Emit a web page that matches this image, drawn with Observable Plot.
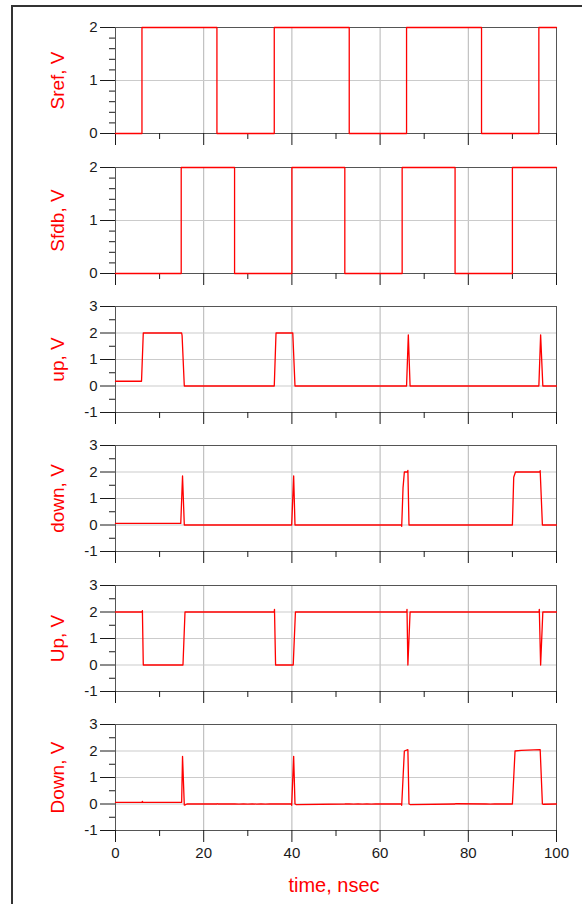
<!DOCTYPE html>
<html>
<head>
<meta charset="utf-8">
<script src="https://cdn.jsdelivr.net/npm/d3@7"></script>
<script src="https://cdn.jsdelivr.net/npm/@observablehq/plot@0.6"></script>
<style>
  html, body { margin: 0; padding: 0; background: #fff; }
  #wrap { position: relative; width: 582px; height: 904px; overflow: hidden; background: #fff; }
  #border { position: absolute; left: 11px; top: 5px; width: 600px; height: 920px;
            border-left: 2px solid #333; border-top: 2px solid #333; }
  #wrap svg { position: absolute; left: 0; }
</style>
</head>
<body>
<div id="wrap"><div id="border"></div></div>
<script>
// ---- data (time in nsec, value in V) ----
const srefT = [0, 6, 6, 23, 23, 36, 36, 53, 53, 66, 66, 83, 83, 96, 96, 100];
const srefV = [0, 0, 2, 2, 0, 0, 2, 2, 0, 0, 2, 2, 0, 0, 2, 2];

const sfdbT = [0, 14.9, 14.9, 27, 27, 40, 40, 52, 52, 65, 65, 77, 77, 90, 90, 100];
const sfdbV = [0, 0, 2, 2, 0, 0, 2, 2, 0, 0, 2, 2, 0, 0, 2, 2];

const upT = [0, 5.9, 6.3, 15.0, 15.1, 15.6, 36.0, 36.4, 40.2, 40.7, 66.0, 66.4, 66.8, 96.0, 96.4, 96.9, 100];
const upV = [0.18, 0.18, 2.0, 2.0, 1.9, 0, 0, 2.0, 2.0, 0, 0, 1.93, 0, 0, 1.93, 0, 0];

const downT = [0, 14.8, 15.2, 15.6, 39.95, 40.4, 40.7, 64.8, 64.9, 65.2, 65.5, 66.2, 66.3, 66.55, 90.0, 90.3, 90.7, 96.2, 96.3, 96.8, 100];
const downV = [0.06, 0.06, 1.85, 0, 0, 1.85, 0, 0, -0.05, 1.4, 2.0, 2.0, 2.06, 0, 0, 1.8, 2.0, 2.0, 2.05, 0, 0];

const bigUpT = [0, 6.0, 6.1, 6.3, 15.3, 15.76, 36.0, 36.05, 36.3, 40.3, 40.8, 66.05, 66.1, 66.3, 66.8, 96.05, 96.1, 96.4, 96.9, 100];
const bigUpV = [2, 2, 2.05, 0, 0, 2, 2, 2.1, 0, 0, 2, 2, 2.1, 0, 2, 2, 2.1, 0, 2, 2];

const bigDownT = [0, 6.0, 6.1, 6.2, 15.0, 15.2, 15.6, 15.8, 16.2, 23.0, 23.1, 23.2, 27, 28, 29, 30, 31, 32, 33, 34, 35, 36, 39.8, 39.95, 40.4, 40.7, 41.0,
  52, 53, 54, 55, 56, 57, 58, 59, 60, 64.8, 64.9, 65.5, 66.3, 66.55, 66.8, 77, 77.1, 84, 85, 86, 87, 90.0, 90.6, 92, 96.3, 96.8, 97.0, 100];
const bigDownV = [0.06, 0.06, 0.1, 0.06, 0.06, 1.8, -0.04, -0.03, 0, 0, 0.01, 0, 0.006, -0.006, 0.006, -0.006, 0.006, -0.006, 0.006, -0.006, 0.006, 0, 0, -0.05, 1.8, 0, -0.02,
  0, 0.006, -0.006, 0.006, -0.006, 0.006, -0.006, 0.006, 0, 0, -0.05, 2.0, 2.05, 0, -0.02, 0, 0.01, 0, -0.006, 0.006, 0, 0, 2.0, 2.02, 2.05, 0, -0.01, 0];

const labels = ["Sref, V", "Sfdb, V", "up, V", "down, V", "Up, V", "Down, V"];
const xLabel = "time, nsec";
const xMajor = [0, 20, 40, 60, 80, 100];
const xMinor = [10, 30, 50, 70, 90];
const xGrid = [20, 40, 60, 80];
const y02Major = [0, 1, 2];
const y02Minor = [0.2, 0.4, 0.6, 0.8, 1.2, 1.4, 1.6, 1.8];
const y02Grid = [1];
const y13Major = [-1, 0, 1, 2, 3];
const y13Minor = [-0.5, 0.5, 1.5, 2.5];
const y13Grid = [0, 1, 2];

// ---- layout ----
const panelTops = [27, 167, 306, 445, 585, 724];
const frameH = 106;
const mTop = 10;
const FONT = "'Liberation Sans', Arial, sans-serif";

const series = [
  {T: srefT, V: srefV, dom: [0, 2], major: y02Major, minor: y02Minor, grid: y02Grid},
  {T: sfdbT, V: sfdbV, dom: [0, 2], major: y02Major, minor: y02Minor, grid: y02Grid},
  {T: upT, V: upV, dom: [-1, 3], major: y13Major, minor: y13Minor, grid: y13Grid},
  {T: downT, V: downV, dom: [-1, 3], major: y13Major, minor: y13Minor, grid: y13Grid},
  {T: bigUpT, V: bigUpV, dom: [-1, 3], major: y13Major, minor: y13Minor, grid: y13Grid},
  {T: bigDownT, V: bigDownV, dom: [-1, 3], major: y13Major, minor: y13Minor, grid: y13Grid}
];

const wrap = document.getElementById("wrap");
series.forEach((s, i) => {
  const last = i === series.length - 1;
  const mBottom = last ? 80 : 24;
  const data = s.T.map((t, k) => ({t, v: s.V[k]}));
  const marks = [
    Plot.gridX(xGrid, {stroke: "#b4b4b4", strokeOpacity: 1}),
    Plot.gridY(s.grid, {stroke: "#cbcbcb", strokeOpacity: 1}),
    Plot.frame({stroke: "#555555"}),
    Plot.axisY({ticks: s.major, tickSize: 15, tickPadding: 3, fontSize: 15, label: null, color: "#1a1a1a", tickFormat: d => String(d)}),
    Plot.axisY({ticks: s.minor, tickSize: 6, tickFormat: () => "", label: null, color: "#1a1a1a"}),
    Plot.axisX({ticks: xMajor, tickSize: 12, tickPadding: 5, fontSize: 15, label: null, color: "#1a1a1a",
                tickFormat: last ? (d => String(d)) : (() => "")}),
    Plot.axisX({ticks: xMinor, tickSize: 6, tickFormat: () => "", label: null, color: "#1a1a1a"}),
    Plot.lineY(data, {x: "t", y: "v", stroke: "#ff0000", strokeWidth: 1.3}),
    Plot.text([labels[i]], {text: d => d, frameAnchor: "left", textAnchor: "middle", lineAnchor: "middle", rotate: -90, dx: -58, fill: "#ff0000", fontSize: 19})
  ];
  if (last) {
    marks.push(Plot.text([xLabel], {text: d => d, frameAnchor: "bottom", lineAnchor: "middle", dx: -2, dy: 55, fill: "#ff0000", fontSize: 20}));
  }
  const chart = Plot.plot({
    width: 582,
    height: mTop + frameH + mBottom,
    marginTop: mTop,
    marginBottom: mBottom,
    marginLeft: 115,
    marginRight: 26,
    x: {domain: [0, 100]},
    y: {domain: s.dom},
    style: {background: "transparent", fontFamily: FONT, overflow: "visible"},
    marks
  });
  chart.style.top = (panelTops[i] - mTop) + "px";
  wrap.appendChild(chart);
});
</script>
</body>
</html>
